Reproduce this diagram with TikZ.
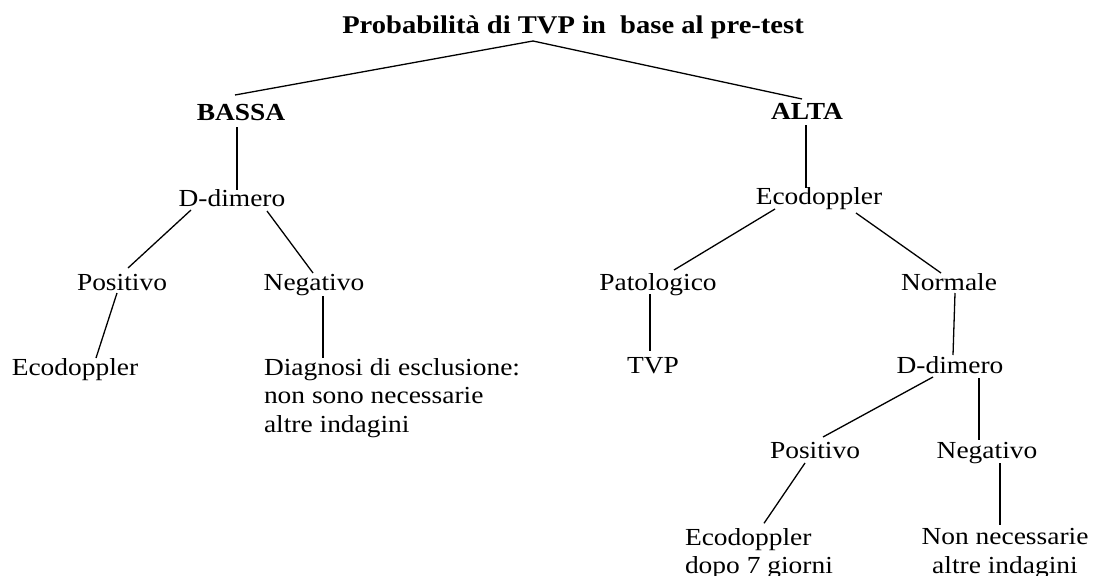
\documentclass[tikz,border=0pt]{standalone}
\usepackage{fontspec}
\setmainfont{Liberation Serif}[FakeStretch=1.12]

\begin{document}
\begin{tikzpicture}[every node/.style={inner sep=0pt, outer sep=0pt},
  txt/.style={anchor=base, font=\fontsize{24.5}{28.5}\selectfont},
  head/.style={anchor=base, font=\fontsize{24.5}{28.5}\selectfont\bfseries},
  edge/.style={line width=1.3pt, color=black}]
\useasboundingbox (0pt, 0pt) rectangle (1099pt, -575pt);
\node (1) [head, font=\fontsize{25.5}{30}\selectfont\bfseries] at (573pt, -34pt) {Probabilità di TVP in~ base al pre-test};
\node (2) [head] at (241pt, -121pt) {BASSA};
\node (3) [head] at (807pt, -120pt) {ALTA};
\node (4) [txt] at (232pt, -206pt) {D-dimero};
\node (5) [txt] at (122pt, -290pt) {Positivo};
\node (6) [txt] at (314pt, -290pt) {Negativo};
\node (7) [txt] at (75pt, -375pt) {Ecodoppler};
\node (8) [txt, anchor=north west, align=left] at (264pt, -358.3pt) {Diagnosi di esclusione:\\non sono necessarie\\altre indagini};
\node (9) [txt] at (819pt, -204pt) {Ecodoppler};
\node (10) [txt] at (658pt, -290pt) {Patologico};
\node (11) [txt] at (949pt, -290pt) {Normale};
\node (12) [txt] at (653pt, -373pt) {TVP};
\node (13) [txt] at (950pt, -373pt) {D-dimero};
\node (14) [txt] at (815pt, -458pt) {Positivo};
\node (15) [txt] at (987pt, -458pt) {Negativo};
\node (16) [txt, anchor=north west, align=left] at (685pt, -528.3pt) {Ecodoppler\\dopo 7 giorni};
\node (17) [txt, anchor=north, align=center] at (1005pt, -528.3pt) {Non necessarie\\altre indagini};
% rami dal titolo
\draw [edge] ([shift={(-40pt,-7pt)}]1.base) to ([shift={(-6pt,26pt)}]2.base);
\draw [edge] ([shift={(-40pt,-7pt)}]1.base) to ([shift={(-5pt,21pt)}]3.base);
% ramo BASSA
\draw [edge] ([shift={(-4pt,-6pt)}]2.base) to ([shift={(5pt,16pt)}]4.base);
\draw [edge] ([shift={(-41pt,-4pt)}]4.base) to ([shift={(6pt,22pt)}]5.base);
\draw [edge] ([shift={(35pt,-5pt)}]4.base) to ([shift={(-1pt,17pt)}]6.base);
\draw [edge] ([shift={(-5pt,-3pt)}]5.base) to ([shift={(21pt,17pt)}]7.base);
\draw [edge] ([shift={(9pt,-6pt)}]6.base) to ([shift={(59pt,0pt)}]8.north west);
% ramo ALTA
\draw [edge] ([shift={(-1pt,-5pt)}]3.base) to ([shift={(-13pt,16pt)}]9.base);
\draw [edge] ([shift={(-44pt,-5pt)}]9.base) to ([shift={(16pt,20pt)}]10.base);
\draw [edge] ([shift={(37pt,-9pt)}]9.base) to ([shift={(-8pt,17pt)}]11.base);
\draw [edge] ([shift={(-8pt,-4pt)}]10.base) to ([shift={(-3pt,22pt)}]12.base);
\draw [edge] ([shift={(6pt,-3pt)}]11.base) to ([shift={(3pt,18pt)}]13.base);
\draw [edge] ([shift={(-17pt,-4pt)}]13.base) to ([shift={(8pt,21pt)}]14.base);
\draw [edge] ([shift={(29pt,-5pt)}]13.base) to ([shift={(-8pt,18pt)}]15.base);
\draw [edge] ([shift={(-10pt,-5pt)}]14.base) to ([shift={(79pt,5pt)}]16.north west);
\draw [edge] ([shift={(13pt,-5pt)}]15.base) to ([shift={(-5pt,3pt)}]17.north);
\end{tikzpicture}
\end{document}
